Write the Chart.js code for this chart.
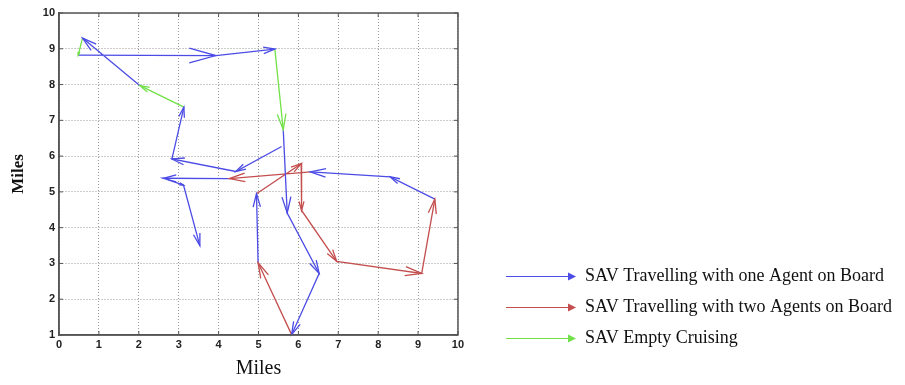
<!DOCTYPE html>
<html>
<head>
<meta charset="utf-8">
<title>SAV trips</title>
<script src="https://cdn.jsdelivr.net/npm/chart.js@4.4.1/dist/chart.umd.min.js"></script>
<style>
  html, body { margin: 0; padding: 0; background: #fff; }
</style>
</head>
<body>
<canvas id="chart_sav" width="905" height="385"></canvas>
<script>
// tick values / labels
const xTickValues = [0, 1, 2, 3, 4, 5, 6, 7, 8, 9, 10];
const xTickLabels = ["0", "1", "2", "3", "4", "5", "6", "7", "8", "9", "10"];
const yTickValues = [1, 2, 3, 4, 5, 6, 7, 8, 9, 10];
const yTickLabels = ["1", "2", "3", "4", "5", "6", "7", "8", "9", "10"];

const seriesNames = [
  "SAV Travelling with one Agent on Board",
  "SAV Travelling with two Agents on Board",
  "SAV Empty Cruising",
];

// each path is a chain of [x, y] in miles, an arrow on every leg
const oneAgentPaths = [
  [[0.48, 8.82], [3.93, 8.81], [5.41, 8.99]],
  [[5.62, 6.74], [5.72, 4.41], [6.52, 2.72], [5.83, 1.01]],
  [[4.99, 3.02], [4.95, 4.95]],
  [[9.42, 4.80], [8.30, 5.42], [6.30, 5.56]],
  [[4.27, 5.37], [2.62, 5.38], [3.12, 5.19], [3.53, 3.50]],
  [[5.58, 6.27], [4.43, 5.57], [2.83, 5.92], [3.13, 7.37]],
  [[2.03, 7.97], [0.59, 9.30]],
];

const twoAgentsPaths = [
  [[5.83, 1.01], [4.99, 3.02]],
  [[4.95, 4.95], [6.07, 5.79], [6.08, 4.48], [6.96, 3.06], [9.09, 2.72], [9.42, 4.80]],
  [[6.30, 5.56], [4.27, 5.37]],
];

const emptyPaths = [
  [[5.41, 8.99], [5.62, 6.74]],
  [[3.13, 7.37], [2.03, 7.97]],
  [[0.59, 9.30], [0.48, 8.82]],
];

const seriesColors = ["#4b4be6", "#c44e4e", "#72e048"];

let chartSav = null;

function armarPuntos(paths) {
  let pts = [];
  paths.forEach(function (p) {
    p.forEach(function (q) {
      pts.push({ x: q[0], y: q[1] });
    });
    pts.push({ x: null, y: null });
  });
  return pts;
}

function iconoLeyenda(color) {
  let c = document.createElement("canvas");
  c.width = 105;
  c.height = 10;
  let g = c.getContext("2d");
  g.strokeStyle = color;
  g.lineWidth = 1;
  g.beginPath();
  g.moveTo(35, 5.5);
  g.lineTo(98, 5.5);
  g.stroke();
  g.fillStyle = color;
  g.beginPath();
  g.moveTo(97, 1.5);
  g.lineTo(105, 5.5);
  g.lineTo(97, 9.5);
  g.closePath();
  g.fill();
  return c;
}

const arrowHeads = {
  id: "arrowHeads",
  afterDatasetsDraw(chart) {
    const ctx = chart.ctx;
    const x = chart.scales.x;
    const y = chart.scales.y;
    ctx.save();
    chart.data.datasets.forEach(function (ds) {
      ctx.strokeStyle = ds.borderColor;
      ctx.lineWidth = ds.borderWidth;
      ds.paths.forEach(function (p) {
        for (let i = 1; i < p.length; i++) {
          let x0 = x.getPixelForValue(p[i - 1][0]);
          let y0 = y.getPixelForValue(p[i - 1][1]);
          let x1 = x.getPixelForValue(p[i][0]);
          let y1 = y.getPixelForValue(p[i][1]);
          let ang = Math.atan2(y1 - y0, x1 - x0);
          let head = Math.hypot(x1 - x0, y1 - y0) * 0.2;
          ctx.beginPath();
          ctx.moveTo(x1 - head * Math.cos(ang - 0.27), y1 - head * Math.sin(ang - 0.27));
          ctx.lineTo(x1, y1);
          ctx.lineTo(x1 - head * Math.cos(ang + 0.27), y1 - head * Math.sin(ang + 0.27));
          ctx.stroke();
        }
      });
    });
    ctx.restore();
  },
};

const frameTicks = {
  id: "frameTicks",
  afterDraw(chart) {
    const ctx = chart.ctx;
    const a = chart.chartArea;
    const x = chart.scales.x;
    const y = chart.scales.y;
    ctx.save();
    ctx.strokeStyle = "#555";
    ctx.lineWidth = 1.5;
    ctx.strokeRect(a.left, a.top, a.right - a.left, a.bottom - a.top);
    ctx.lineWidth = 1;
    ctx.beginPath();
    x.ticks.forEach(function (t) {
      let px = x.getPixelForValue(t.value);
      ctx.moveTo(px, a.bottom);
      ctx.lineTo(px, a.bottom - 4);
      ctx.moveTo(px, a.top);
      ctx.lineTo(px, a.top + 4);
    });
    y.ticks.forEach(function (t) {
      let py = y.getPixelForValue(t.value);
      ctx.moveTo(a.left, py);
      ctx.lineTo(a.left + 4, py);
      ctx.moveTo(a.right, py);
      ctx.lineTo(a.right - 4, py);
    });
    ctx.stroke();
    ctx.restore();
  },
};

function crearDataset(i, paths) {
  return {
    label: seriesNames[i],
    data: armarPuntos(paths),
    paths: paths,
    showLine: true,
    spanGaps: false,
    borderColor: seriesColors[i],
    backgroundColor: seriesColors[i],
    borderWidth: 1.3,
    pointRadius: 0,
    pointHoverRadius: 0,
    pointStyle: iconoLeyenda(seriesColors[i]),
  };
}

function cargarGrafico() {
  let ctx = document.getElementById("chart_sav");

  chartSav = new Chart(ctx, {
    type: "scatter",
    data: {
      datasets: [
        crearDataset(0, oneAgentPaths),
        crearDataset(1, twoAgentsPaths),
        crearDataset(2, emptyPaths),
      ],
    },
    plugins: [arrowHeads, frameTicks],
    options: {
      responsive: false,
      animation: false,
      layout: { padding: { left: 0, right: 3, top: 13, bottom: 25 } },
      plugins: {
        tooltip: { enabled: false },
        legend: {
          position: "right",
          align: "end",
          maxWidth: 460,
          labels: {
            usePointStyle: true,
            pointStyleWidth: 105,
            padding: 13,
            color: "#111",
            font: { family: "Liberation Serif", size: 18 },
          },
        },
      },
      scales: {
        x: {
          type: "linear",
          min: 0,
          max: 10,
          afterBuildTicks: function (scale) {
            scale.ticks = xTickValues.map(function (v) { return { value: v }; });
          },
          afterFit: function (scale) {
            scale.height = 25;
          },
          ticks: {
            padding: 3,
            color: "#222",
            font: { family: "Liberation Sans", size: 11, weight: "bold" },
            callback: function (value) {
              return xTickLabels[xTickValues.indexOf(value)];
            },
          },
          grid: { color: "#999", lineWidth: 1, drawTicks: false },
          border: { display: true, color: "#555", width: 1.5, dash: [1, 2] },
          title: {
            display: true,
            text: "Miles",
            color: "#111",
            font: { family: "Liberation Serif", size: 20 },
            padding: { top: 0, bottom: -21 },
          },
        },
        y: {
          type: "linear",
          min: 1,
          max: 10,
          afterBuildTicks: function (scale) {
            scale.ticks = yTickValues.map(function (v) { return { value: v }; });
          },
          afterFit: function (scale) {
            scale.width = 59;
          },
          ticks: {
            padding: 4,
            color: "#222",
            font: { family: "Liberation Sans", size: 11, weight: "bold" },
            callback: function (value) {
              return yTickLabels[yTickValues.indexOf(value)];
            },
          },
          grid: { color: "#999", lineWidth: 1, drawTicks: false },
          border: { display: true, color: "#555", width: 1.5, dash: [1, 2] },
          title: {
            display: true,
            text: "Miles",
            color: "#111",
            font: { family: "Liberation Serif", size: 17, weight: "bold" },
            padding: { top: 8, bottom: 0 },
          },
        },
      },
    },
  });
}

cargarGrafico();
</script>
</body>
</html>
